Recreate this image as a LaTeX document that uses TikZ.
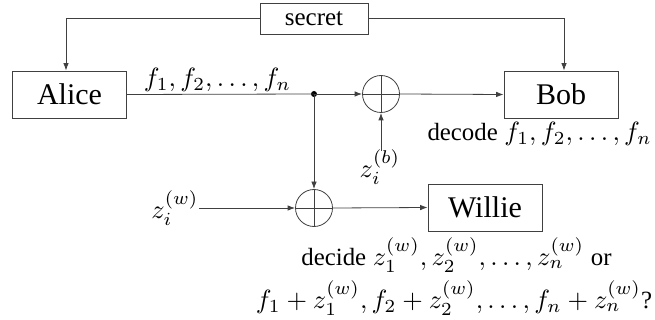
\documentclass[tikz,border=0pt]{standalone}
\usepackage[no-math]{fontspec}
\setmainfont{Liberation Serif}
\usetikzlibrary{arrows.meta}
\newcommand{\tw}[1]{{\fontsize{9.4}{11}\selectfont #1}}
\begin{document}
\begin{tikzpicture}[x=1pt,y=-1pt,
  every node/.style={inner sep=0pt},
  conn/.style={line width=0.8pt, draw=black!75},
  arr/.style={conn, -{Latex[length=7.5pt,width=5.5pt]}},
  bigbox/.style={draw=black!75, line width=0.8pt, minimum width=114pt, minimum height=47pt, font=\fontsize{30}{34}\selectfont},
  smallbox/.style={draw=black!75, line width=0.8pt, minimum width=108pt, minimum height=31pt, font=\fontsize{25}{29}\selectfont},
  plusnode/.style={circle, draw=black!75, line width=0.8pt, minimum size=37pt,
    path picture={\draw[line width=0.8pt, black!75] (path picture bounding box.north) -- (path picture bounding box.south)
      (path picture bounding box.west) -- (path picture bounding box.east);}},
  lbl/.style={font=\normalsize, scale=2.64, transform shape}
]
\useasboundingbox (0,0) rectangle (655,320);
\node[smallbox] (secret) at (314,18.5) {secret};
\node[bigbox] (alice) at (69.5,94.5) {Alice};
\node[bigbox] (bob) at (561,94.5) {Bob};
\node[bigbox] (willie) at (485,207.5) {Willie};
\node[plusnode] (opb) at (381,94) {};
\node[plusnode] (opw) at (314,208) {};
\fill[black] (314,94) circle (3pt) coordinate (dot);
\node[lbl] (flab) at (217.5,80) {$f_1, f_2, \ldots, f_n$};
\node[lbl] (zb) at (380,167) {$z_i^{(b)}$};
\node[lbl, anchor=east] (zw) at (199,208) {$z_i^{(w)}$};
\node[lbl, anchor=west] (dec) at (427,134) {\tw{decode} $f_1, f_2, \ldots, f_n$};
\node[lbl] (decide) at (456.5,255) {\tw{decide} $z_1^{(w)}, z_2^{(w)}, \ldots, z_n^{(w)}$ \tw{or}};
\node[lbl] (guess) at (454,298) {$f_1+z_1^{(w)}, f_2+z_2^{(w)}, \ldots, f_n+z_n^{(w)}$\tw{?}};
\draw[arr] (secret.west) -| ([xshift=-3.5pt]alice.north);
\draw[arr] (secret.east) -| ([xshift=3pt]bob.north);
\draw[conn] (alice.east) -- (dot);
\draw[arr] (dot) -- (opb.west);
\draw[arr] (opb.east) -- (bob.west);
\draw[arr] (dot) -- (opw.north);
\draw[arr] (zb.north) ++(1pt,-2pt) -- (opb.south);
\draw[arr] (zw.east) -- (opw.west);
\draw[arr] (opw.east) -- (willie.west);
\end{tikzpicture}
\end{document}
